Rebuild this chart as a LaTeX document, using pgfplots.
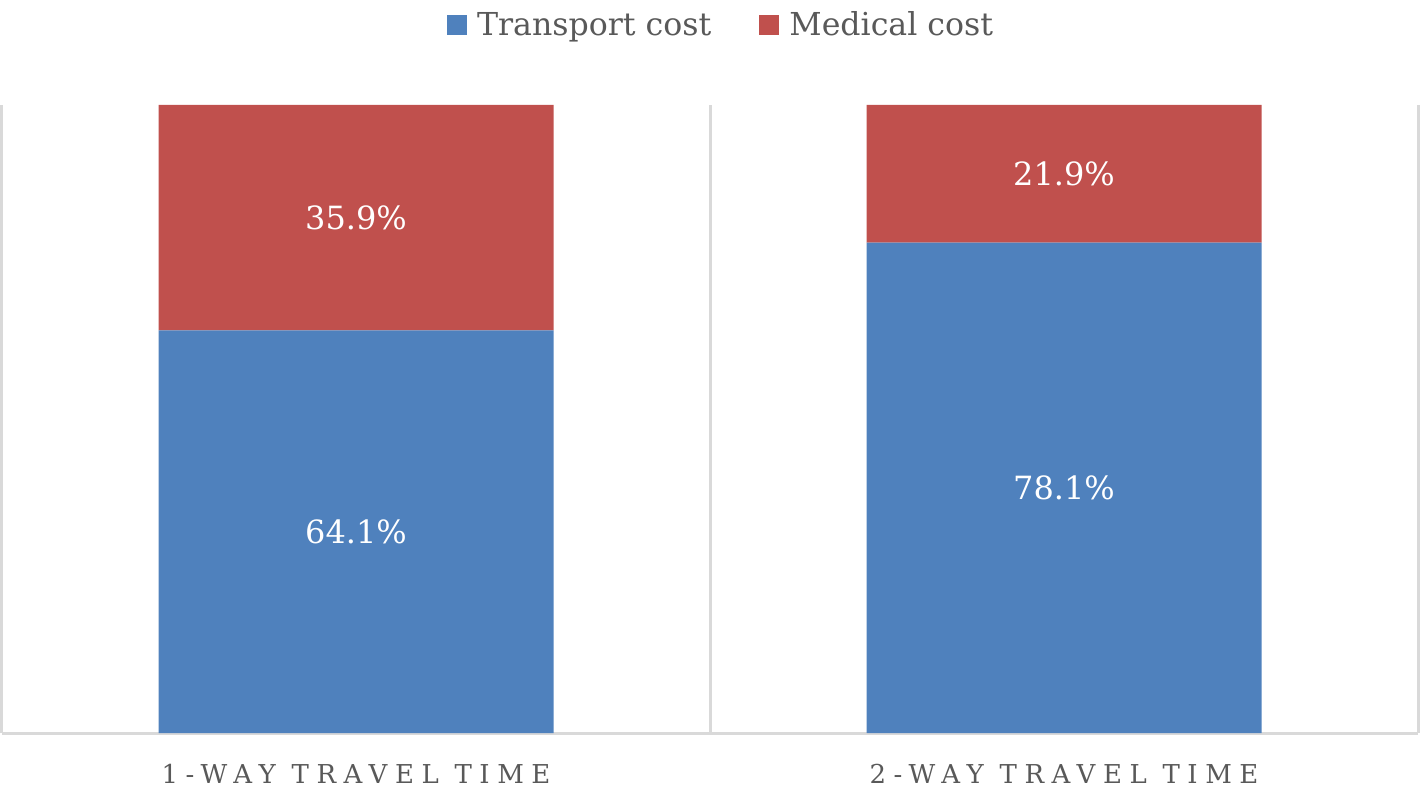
\documentclass[border=0pt]{standalone}
\usepackage{fontspec}
\setmainfont{DejaVu Serif}
\newfontfamily\catfont[LetterSpace=29]{DejaVu Serif}
\usepackage{pgfplots}
\usepackage{pgfplotstable}
\pgfplotsset{compat=1.18}
\definecolor{tblue}{HTML}{4F81BD}
\definecolor{tred}{HTML}{C0504D}
\definecolor{txtgray}{HTML}{595959}
\definecolor{gridgray}{HTML}{D9D9D9}
\pgfplotstableread{
x y lab
0 64.1 64.1
1 78.1 78.1
}\transport
\pgfplotstableread{
x y lab
0 35.9 35.9
1 21.9 21.9
}\medical
\begin{document}
\begin{tikzpicture}
\begin{axis}[
  scale only axis, width=708pt, height=314pt,
  xmin=-0.5, xmax=1.5, ymin=0, ymax=100,
  ybar stacked, bar width=197.5pt,
  axis y line=none, axis x line*=bottom,
  x axis line style={draw=gridgray, line width=1.5pt},
  xtick={0,1},
  xticklabels={1-WAY TRAVEL TIME, 2-WAY TRAVEL TIME},
  xticklabel style={font=\catfont\fontsize{13pt}{15pt}\selectfont, text=txtgray, yshift=-12pt},
  major tick length=0pt,
  extra x ticks={-0.5,0.5,1.5}, extra x tick labels={},
  extra x tick style={grid=major, major tick length=0pt},
  major grid style={draw=gridgray, line width=1.5pt},
  point meta=explicit symbolic,
  nodes near coords={\pgfplotspointmeta\%},
  every node near coord/.append style={anchor=center, text=white,
     font=\fontsize{16pt}{18pt}\selectfont},
  legend columns=2,
  legend style={at={(rel axis cs:0.505,1)}, anchor=center, yshift=40pt, xshift=2.5pt,
     draw=none, fill=none, font=\fontsize{15.8pt}{18pt}\selectfont, text=txtgray,
     /tikz/every even column/.append style={column sep=22pt}},
  legend image code/.code={\fill[#1,draw=none] (0pt,-5pt) rectangle (10pt,5pt);
     \path (13pt,0pt);},
]
\addplot[fill=tblue, draw=none] table[x=x, y=y, meta=lab]{\transport};
\addplot[fill=tred, draw=none] table[x=x, y=y, meta=lab]{\medical};
\legend{Transport cost, Medical cost}
\coordinate (BL) at (rel axis cs:0,0);
\coordinate (TR) at (rel axis cs:1,1);
\end{axis}
\pgfresetboundingbox
\useasboundingbox ([shift={(-1pt,-27.5pt)}]BL) rectangle ([shift={(2pt,52.5pt)}]TR);
\end{tikzpicture}
\end{document}
